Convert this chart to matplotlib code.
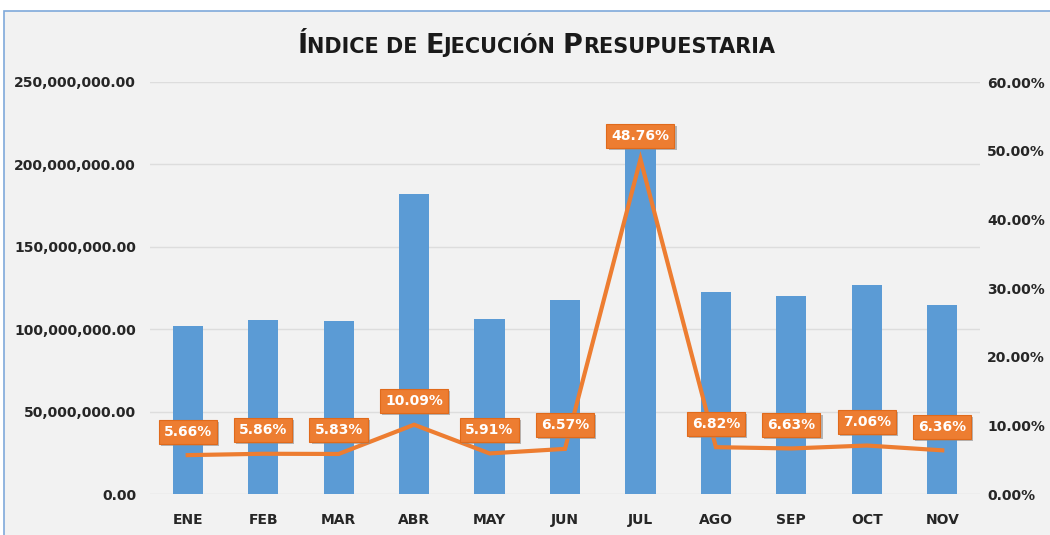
import matplotlib
matplotlib.use("Agg")
import matplotlib.pyplot as plt
import matplotlib.patheffects as pe
from matplotlib.patches import Rectangle
from matplotlib.ticker import FuncFormatter, MultipleLocator

months = ["ENE", "FEB", "MAR", "ABR", "MAY", "JUN", "JUL", "AGO", "SEP", "OCT", "NOV"]
amounts = [101.8e6, 105.5e6, 104.8e6, 181.8e6, 106.0e6, 118.0e6, 212.0e6, 122.4e6, 120.0e6, 126.7e6, 114.5e6]
pct = [5.66, 5.86, 5.83, 10.09, 5.91, 6.57, 48.76, 6.82, 6.63, 7.06, 6.36]

BAR = "#5B9BD5"
ORANGE = "#ED7D31"
BG = "#F2F2F2"
TXT = "#262626"

fig = plt.figure(figsize=(10.5, 5.35), dpi=100, facecolor="white")
W, H = 1050, 535
# chart frame
fig.patches.append(Rectangle((4 / W, -0.01), (W - 4) / W + 0.01, (H - 11) / H + 0.01,
                             transform=fig.transFigure, facecolor=BG,
                             edgecolor="#7FA9DA", linewidth=1.2, zorder=-5))

ax = fig.add_axes([150 / W, 1 - 494 / H, 830 / W, (494 - 82) / H])
ax.set_facecolor("none")
x = list(range(len(months)))
ax.bar(x, amounts, width=0.4, color=BAR, zorder=2)
ax.set_xlim(-0.5, len(months) - 0.5)
ax.set_ylim(0, 250e6)
ax.yaxis.set_major_locator(MultipleLocator(50e6))
ax.yaxis.set_major_formatter(FuncFormatter(lambda v, p: f"{v:,.2f}"))
ax.grid(axis="y", color="#DDDDDD", linewidth=1, zorder=0)
ax.set_axisbelow(True)
for s in ax.spines.values():
    s.set_visible(False)
ax.tick_params(axis="both", length=0, labelsize=10, labelcolor=TXT)
ax.tick_params(axis="y", pad=10)
ax.tick_params(axis="x", pad=14)
ax.set_xticks(x)
ax.set_xticklabels(months, fontweight="bold")
for t in ax.get_yticklabels():
    t.set_fontweight("bold")

ax2 = ax.twinx()
ax2.set_ylim(0, 60)
ax2.yaxis.set_major_locator(MultipleLocator(10))
ax2.yaxis.set_major_formatter(FuncFormatter(lambda v, p: f"{v:.2f}%"))
for s in ax2.spines.values():
    s.set_visible(False)
ax2.tick_params(axis="y", length=0, labelsize=10, labelcolor=TXT, pad=5)
for t in ax2.get_yticklabels():
    t.set_fontweight("bold")
ax2.plot(x, pct, color=ORANGE, linewidth=3, zorder=3, solid_joinstyle="miter")

for xi, p in zip(x, pct):
    a = ax2.annotate(f"{p:.2f}%", (xi, p), xytext=(0, 17), textcoords="offset points",
                     ha="center", va="center", color="white", fontsize=10, fontweight="bold",
                     bbox=dict(boxstyle="square,pad=0.36", facecolor=ORANGE, edgecolor="#E06A1B",
                               linewidth=0.8), zorder=5)
    a.get_bbox_patch().set_path_effects([
        pe.SimplePatchShadow(offset=(1.5, -1.5), shadow_rgbFace="#8C8C8C", alpha=0.6),
        pe.Normal()])

# Title in small caps
parts = [("Í", 19.5), ("NDICE DE ", 15), ("E", 19.5), ("JECUCIÓN ", 15), ("P", 19.5), ("RESUPUESTARIA", 15)]
fig.canvas.draw()
r = fig.canvas.get_renderer()
texts = []
total = 0
for s, sz in parts:
    t = fig.text(0, 0, s, fontsize=sz, fontweight="bold", color="#1A1A1A",
                 ha="left", va="baseline", family="DejaVu Sans")
    w = t.get_window_extent(r).width
    texts.append((t, w))
    total += w
xpos = 536 - total / 2
for t, w in texts:
    t.set_position((xpos / W, 1 - 53 / H))
    xpos += w

fig.savefig("out.png", dpi=100, facecolor="white")
